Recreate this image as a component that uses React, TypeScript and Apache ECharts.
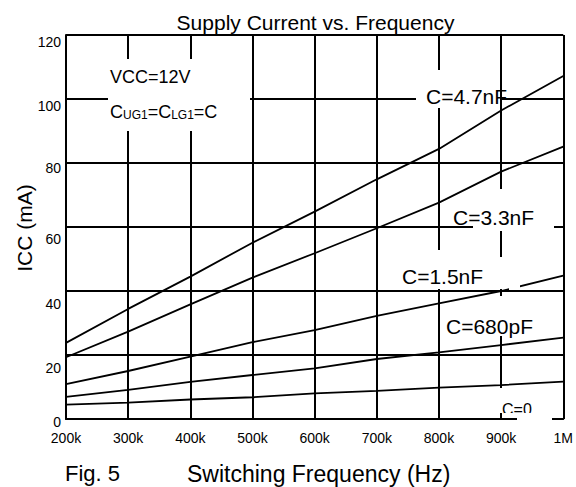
import React, { useEffect, useRef } from "react";
import * as echarts from "echarts";

// Switching frequency (kHz)
const freqKHz = [200, 300, 400, 500, 600, 700, 800, 900, 1000];
// Supply current ICC (mA) for each gate capacitance
const icc4700pF = [23.8, 34.4, 44.5, 55.1, 64.8, 74.9, 84.4, 96.4, 107.2];
const icc3300pF = [19.3, 27.3, 35.8, 44.2, 51.8, 59.6, 67.6, 77.3, 85.1];
const icc1500pF = [10.9, 15.0, 19.5, 24.0, 27.8, 32.2, 36.1, 40.0, 44.8];
const icc680pF = [6.9, 9.1, 11.6, 13.75, 15.8, 18.75, 20.8, 23.1, 25.4];
const icc0pF = [4.5, 5.1, 6.1, 6.8, 8.0, 8.8, 9.8, 10.6, 11.7];

const seriesNames = ["C=4.7nF", "C=3.3nF", "C=1.5nF", "C=680pF", "C=0"];
const seriesValues = [icc4700pF, icc3300pF, icc1500pF, icc680pF, icc0pF];

const yTicks = [0, 20, 40, 60, 80, 100, 120];
const xTickLabels = ["200k", "300k", "400k", "500k", "600k", "700k", "800k", "900k", "1M"];

const titleText = "Supply Current vs. Frequency";
const yName = "ICC (mA)";
const figText = "Fig. 5";
const xName = "Switching Frequency (Hz)";

const FONT = "Liberation Sans, Arial, sans-serif";

// vertical label shift (px, padding-top) as in the reference
const yLabelPad: Record<number, number> = { 0: 6, 20: 26, 40: 26, 60: 23, 80: 10, 100: 13, 120: 14 };

const whiteBox = (x: number, y: number, w: number, h: number, z = 1) => ({
  type: "rect",
  shape: { x, y, width: w, height: h },
  style: { fill: "#fff" },
  z,
  silent: true,
});

const txt = (text: string, x: number, y: number, size: number, align = "left", extra: any = {}) => ({
  type: "text",
  x,
  y,
  z: 5,
  silent: true,
  ...extra,
  style: {
    text,
    fill: "#000",
    font: `${size}px ${FONT}`,
    align,
    verticalAlign: "middle",
    ...(extra.style || {}),
  },
});

export default function App() {
  const ref = useRef<HTMLDivElement>(null);

  useEffect(() => {
    if (!ref.current) return;
    const chart = echarts.init(ref.current, null, { renderer: "svg" });

    const rich: any = {};
    yTicks.forEach((v) => {
      rich["s" + v] = {
        fontSize: 14,
        fontFamily: FONT,
        color: "#000",
        padding: [yLabelPad[v] || 0, 0, 0, 0],
      };
    });

    const option: any = {
      animation: false,
      backgroundColor: "#fff",
      grid: { left: 66, right: 12, top: 35, bottom: 68 },
      xAxis: {
        type: "value",
        min: 200,
        max: 1000,
        interval: 100,
        axisLine: { show: true, lineStyle: { color: "#000", width: 2 } },
        axisTick: { show: false },
        splitLine: { show: true, lineStyle: { color: "#000", width: 2 } },
        axisLabel: {
          showMinLabel: true,
          showMaxLabel: true,
          color: "#000",
          fontSize: 14,
          fontFamily: FONT,
          margin: 12,
          formatter: (v: number) => xTickLabels[freqKHz.indexOf(v)] ?? "",
        },
      },
      yAxis: {
        type: "value",
        min: 0,
        max: 120,
        interval: 20,
        axisLine: { show: true, lineStyle: { color: "#000", width: 2 } },
        axisTick: { show: false },
        splitLine: { show: true, lineStyle: { color: "#000", width: 2 } },
        axisLabel: {
          showMinLabel: true,
          showMaxLabel: true,
          margin: 5,
          formatter: (v: number) => `{s${v}|${v}}`,
          rich,
        },
      },
      series: seriesValues.map((vals, i) => ({
        type: "line",
        name: seriesNames[i],
        data: freqKHz.map((f, j) => [f, vals[j]]),
        showSymbol: false,
        symbol: "none",
        smooth: false,
        z: 2,
        lineStyle: { color: "#000", width: 1.8 },
      })),
      graphic: [
        // white label backgrounds covering the grid
        whiteBox(108, 59, 142, 72),
        whiteBox(416, 70, 84, 38),
        whiteBox(473, 189, 81, 42),
        whiteBox(400, 250, 100, 39),
        whiteBox(496, 257, 13, 32),
        whiteBox(509, 283, 11, 7, 4),
        whiteBox(446, 306, 116, 30),
        whiteBox(496, 296, 14, 10),
        whiteBox(500, 388, 30, 25),
        whiteBox(517, 417, 35, 5),
        whiteBox(504, 413, 48, 5, 6),
        // texts
        txt(titleText, 315.5, 22, 21, "center"),
        txt("VCC=12V", 110, 77, 18),
        {
          type: "text",
          x: 110,
          y: 111,
          z: 5,
          silent: true,
          style: {
            text: "{a|C}{b|UG1}{a|=C}{b|LG1}{a|=C}",
            align: "left",
            verticalAlign: "middle",
            fill: "#000",
            rich: {
              a: { fontSize: 18, fontFamily: FONT, fill: "#000", lineHeight: 20, verticalAlign: "bottom" },
              b: { fontSize: 12, fontFamily: FONT, fill: "#000", lineHeight: 15, verticalAlign: "bottom" },
            },
          },
        },
        txt(seriesNames[0], 426, 96.5, 21),
        txt(seriesNames[1], 453, 217.5, 21),
        txt(seriesNames[2], 402, 276.5, 21),
        txt(seriesNames[3], 446, 326.5, 21),
        txt(seriesNames[4], 502, 409, 16),
        txt(figText, 65, 473.5, 22),
        txt(xName, 187, 473.5, 23),
        txt(yName, 24, 228, 21, "center", { rotation: Math.PI / 2 }),
      ],
    };

    chart.setOption(option);
    return () => chart.dispose();
  }, []);

  return (
    <div
      ref={ref}
      style={{ position: "fixed", left: 0, top: 0, width: 576, height: 487, background: "#fff" }}
    />
  );
}
